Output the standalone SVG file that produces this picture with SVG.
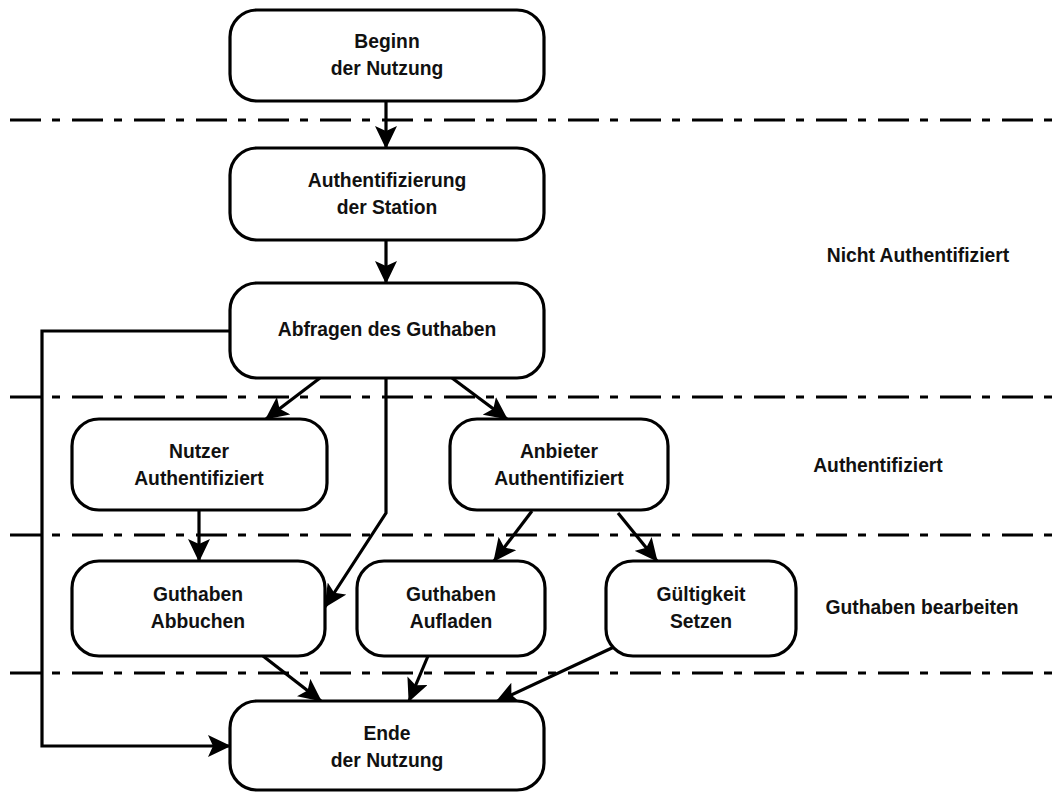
<svg xmlns="http://www.w3.org/2000/svg" width="1057" height="793" viewBox="0 0 1057 793">
  <defs>
    <marker id="arrow" markerUnits="userSpaceOnUse" viewBox="0 0 23 22" markerWidth="23" markerHeight="22" refX="22" refY="11" orient="auto">
      <path d="M0,0 L23,11 L0,22 L5,11 Z" fill="#000"/>
    </marker>
    <style>
      .node rect { fill: #fff; stroke: #000; stroke-width: 3.2; }
      text { font-family: "Liberation Sans", Arial, sans-serif; font-weight: bold; font-size: 19.3px; fill: #111; text-anchor: middle; }
      .sep { stroke: #000; stroke-width: 3.2; stroke-dasharray: 31 11 8 12; fill: none; }
      .edge { stroke: #000; stroke-width: 3.2; fill: none; marker-end: url(#arrow); }
    </style>
  </defs>
  <rect width="1057" height="793" fill="#fff"/>

  <!-- swimlane separators -->
  <g id="separators">
    <line class="sep" x1="10" y1="120" x2="1057" y2="120"/>
    <line class="sep" x1="10" y1="397" x2="1057" y2="397"/>
    <line class="sep" x1="10" y1="535" x2="1057" y2="535"/>
    <line class="sep" x1="10" y1="673" x2="1057" y2="673"/>
  </g>

  <!-- lane labels -->
  <g id="lane-labels">
    <text x="918" y="262">Nicht Authentifiziert</text>
    <text x="878" y="472">Authentifiziert</text>
    <text x="922" y="614">Guthaben bearbeiten</text>
  </g>

  <!-- connectors -->
  <g id="connectors">
    <path class="edge" d="M386,101 L386,148"/>
    <path class="edge" d="M386,240 L386,283"/>
    <path class="edge" d="M320,378 L266,419"/>
    <path class="edge" d="M452,378 L507,419"/>
    <path class="edge" d="M386,378 L386,513 L325,607"/>
    <path class="edge" d="M199,510 L199,561"/>
    <path class="edge" d="M532,511 L494,561"/>
    <path class="edge" d="M618,513 L657,561"/>
    <path class="edge" d="M263,656 L321,701"/>
    <path class="edge" d="M428,656 L409,701"/>
    <path class="edge" d="M614,647 L496,702"/>
    <path class="edge" d="M230,331 L42,331 L42,746 L230,746"/>
  </g>

  <g id="beginn" class="node">
    <rect x="230" y="10" width="314" height="91" rx="27"/>
    <text x="387" y="48">Beginn</text>
    <text x="387" y="75">der Nutzung</text>
  </g>

  <g id="auth-station" class="node">
    <rect x="230" y="148" width="314" height="92" rx="27"/>
    <text x="387" y="187">Authentifizierung</text>
    <text x="387" y="214">der Station</text>
  </g>

  <g id="abfragen" class="node">
    <rect x="230" y="283" width="314" height="95" rx="27"/>
    <text x="387" y="336">Abfragen des Guthaben</text>
  </g>

  <g id="nutzer" class="node">
    <rect x="72" y="419" width="255" height="91" rx="27"/>
    <text x="199" y="458">Nutzer</text>
    <text x="199" y="485">Authentifiziert</text>
  </g>

  <g id="anbieter" class="node">
    <rect x="450" y="419" width="218" height="91" rx="27"/>
    <text x="559" y="458">Anbieter</text>
    <text x="559" y="485">Authentifiziert</text>
  </g>

  <g id="abbuchen" class="node">
    <rect x="72" y="561" width="253" height="95" rx="27"/>
    <text x="198" y="601">Guthaben</text>
    <text x="198" y="628">Abbuchen</text>
  </g>

  <g id="aufladen" class="node">
    <rect x="357" y="561" width="188" height="95" rx="27"/>
    <text x="451" y="601">Guthaben</text>
    <text x="451" y="628">Aufladen</text>
  </g>

  <g id="gueltigkeit" class="node">
    <rect x="606" y="561" width="190" height="95" rx="27"/>
    <text x="701" y="601">Gültigkeit</text>
    <text x="701" y="628">Setzen</text>
  </g>

  <g id="ende" class="node">
    <rect x="230" y="701" width="314" height="89" rx="27"/>
    <text x="387" y="740">Ende</text>
    <text x="387" y="767">der Nutzung</text>
  </g>
</svg>
